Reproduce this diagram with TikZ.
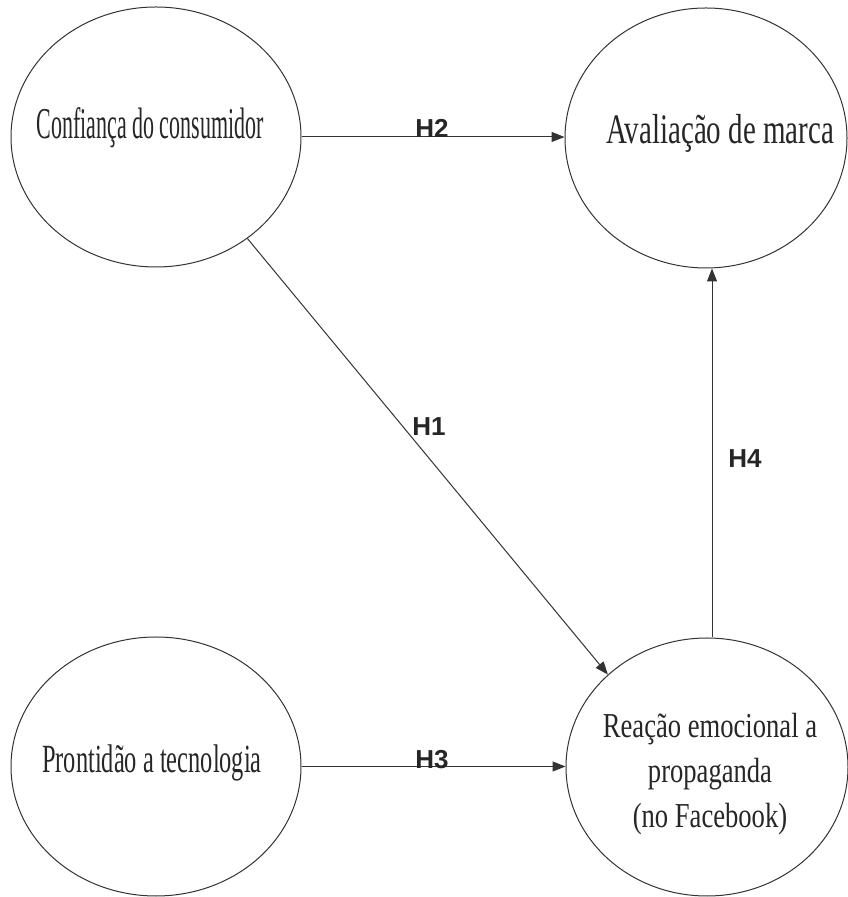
\documentclass[tikz,border=0pt]{standalone}
\usepackage{fontspec}
\usepackage{graphicx}
\setmainfont{Liberation Serif}
\newfontfamily\hsans{Liberation Sans}
\usetikzlibrary{arrows.meta,shapes.geometric}
\tikzset{
  construct/.style={draw=black!80, line width=1pt, ellipse, inner sep=0pt},
  ctext/.style={inner sep=0pt, anchor=base, text=black!85},
  hlabel/.style={inner sep=0pt, font=\hsans\bfseries\fontsize{26pt}{30pt}\selectfont, text=black!85},
  arr/.style={draw=black!80, line width=1pt, -{Triangle[length=13pt,width=10pt]}}
}
\begin{document}
\begin{tikzpicture}[x=1pt,y=1pt]
\useasboundingbox (0,0) rectangle (848,897);
% constructs
\node[construct, minimum width=290pt, minimum height=260pt] (tl) at (156,760) {};
\node[construct, minimum width=282pt, minimum height=260pt] (tr) at (706,759) {};
\node[construct, minimum width=290pt, minimum height=259pt] (bl) at (156,130.5) {};
\node[construct, minimum width=282pt, minimum height=258pt] (br) at (707,130) {};
% texts
\node[ctext] (tltext) at (150,758) {\scalebox{0.50}[1]{\fontsize{44pt}{50pt}\selectfont Confiança do consumidor}};
\node[ctext] (trtext) at (720,753) {\scalebox{0.69}[1]{\fontsize{42pt}{48pt}\selectfont Avaliação de marca}};
\node[ctext] (bltext) at (152,124) {\scalebox{0.61}[1]{\fontsize{40pt}{46pt}\selectfont Prontidão a tecnologia}};
\node[ctext] (brtext) at (710,159) {\scalebox{0.76}[1]{\fontsize{35pt}{45pt}\selectfont\begin{tabular}[t]{@{}c@{}}Reação emocional a\\ propaganda\\ (no Facebook)\end{tabular}}};
% connectors
\draw[arr] (tl.east) -- (tl.east -| tr.west);
\draw[arr] (bl.east) -- (bl.east -| br.west);
\draw[arr] ([xshift=5pt]br.north) -- ([xshift=6pt]tr.south);
\draw[arr] (tl.312.6) -- (br.137.1);
% labels
\node[hlabel] (h2) at (432,768.5) {H2};
\node[hlabel] (h1) at (429,470) {H1};
\node[hlabel] (h4) at (745,438) {H4};
\node[hlabel] (h3) at (432,137.5) {H3};
\end{tikzpicture}
\end{document}
